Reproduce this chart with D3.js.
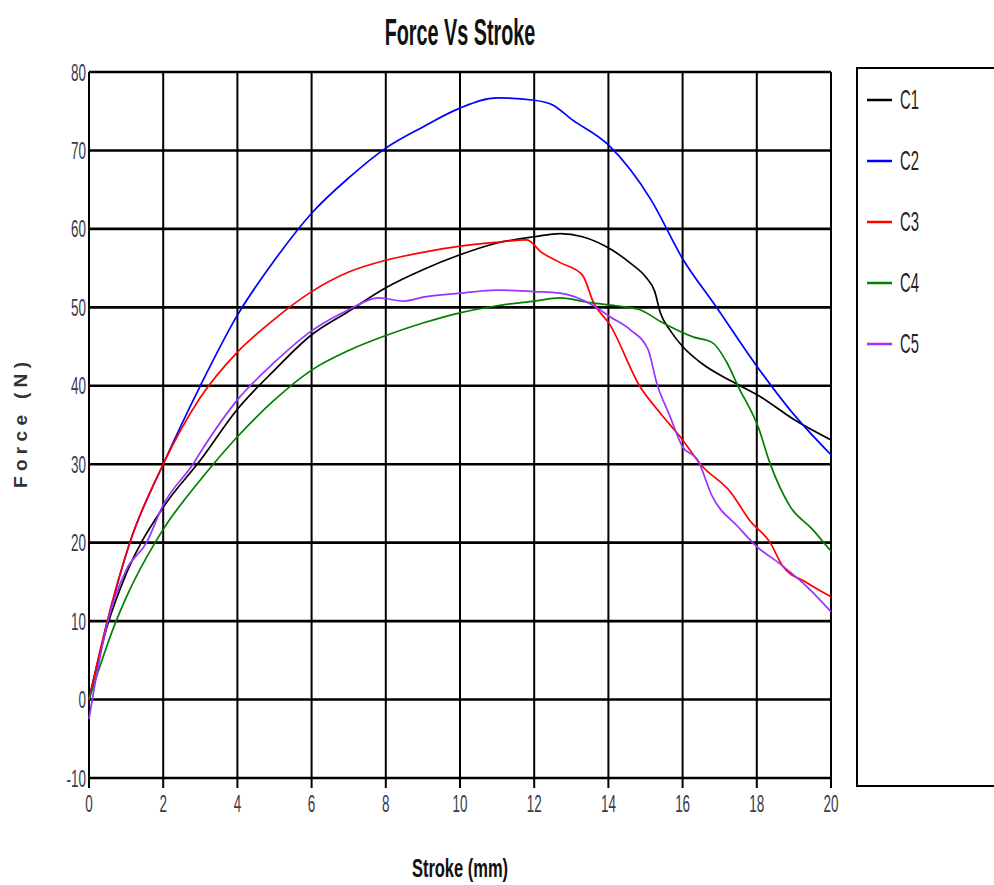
<!DOCTYPE html>
<html>
<head>
<meta charset="utf-8">
<script src="https://cdn.jsdelivr.net/npm/d3@7"></script>
<style>
  body { margin: 0; background: #fff; }
  text { font-family: "Liberation Sans", Arial, sans-serif; }
</style>
</head>
<body>
<script>
// series names and colours
const series_names = ["C1", "C2", "C3", "C4", "C5"];
const series_colors = ["#000000", "#0000ff", "#ff0000", "#008000", "#9933ff"];

// [stroke, force]
const c1_points = [[0,0],[0.5,9.5],[1,16],[2,24.5],[3,30.5],[4,37],[5,42],[6,46.5],[7,49.5],[8,52.5],[9,54.8],[10,56.7],[11,58.2],[12,59],[12.7,59.4],[13.3,59],[14.1,57.3],[14.6,55.6],[15,53.9],[15.25,52],[15.4,49.3],[15.66,47.1],[16,45],[16.5,42.9],[17.35,40.5],[18.1,38.6],[19,35.7],[20,33.1]];
const c2_points = [[0,0],[0.5,10],[1.1,20],[2,30],[3,40],[4,49],[5,56],[6,62],[7,66.5],[8,70.3],[9,73],[10,75.4],[11,76.7],[12,76.4],[12.5,75.8],[13,74],[14,70.7],[15.15,63.7],[16,56.2],[16.9,50.1],[18,42.5],[18.9,36.9],[20,31.2]];
const c3_points = [[0,0],[0.49,10],[1.1,20],[2,30],[3,38.5],[4,44.3],[5,48.5],[6,52],[7,54.5],[8,56],[9,57],[10,57.8],[11,58.3],[11.8,58.6],[12.2,57],[12.7,55.7],[13.3,54.1],[13.6,50.6],[14.04,47.8],[14.85,39.9],[15.4,36.5],[16,33.1],[16.5,29.9],[17.3,26.4],[17.8,22.9],[18.36,20],[18.7,17],[19.35,14.9],[20,13.1]];
const c4_points = [[0,0],[0.73,10],[1,13],[1.78,20],[2,21.7],[3,28],[3.35,30],[4,33.5],[5,38.2],[6,42],[7,44.5],[8,46.4],[9,48],[10,49.3],[11,50.2],[12,50.8],[12.7,51.2],[13.5,50.6],[14.2,50.2],[14.85,49.7],[15.4,48.2],[16.3,46.2],[16.8,45.5],[17.2,42.9],[17.5,39.9],[18.05,34.6],[18.35,30.2],[18.9,24.6],[19.5,21.7],[20,18.9]];
const c5_points = [[0,-2.5],[0.2,3],[0.51,10],[1,16.5],[1.55,20],[2,24.8],[2.8,30],[3,31.5],[4,38.2],[5,43],[6,47],[7,49.7],[7.8,51.2],[8.5,50.8],[9,51.3],[10,51.8],[11,52.2],[12,52],[12.7,51.8],[13.6,50.2],[14.04,48.8],[14.6,47.1],[15.07,44.6],[15.3,40.4],[15.66,36.1],[16,32.2],[16.4,30.6],[16.8,25.9],[17.5,22],[18,19.5],[18.6,17.4],[19.35,14.4],[20,11.2]];
const all_series = [c1_points, c2_points, c3_points, c4_points, c5_points];

const x_ticks = [0, 2, 4, 6, 8, 10, 12, 14, 16, 18, 20];
const y_ticks = [-10, 0, 10, 20, 30, 40, 50, 60, 70, 80];

const width = 994, height = 885;
const plot = { left: 89, right: 831, top: 72, bottom: 778 };
const squeeze = 0.56;	// the source picture has narrow, tall lettering

const svg = d3.select("body").append("svg")
    .attr("width", width)
    .attr("height", height);

const x = d3.scaleLinear().domain([0, 20]).range([plot.left, plot.right]);
const y = d3.scaleLinear().domain([-10, 80]).range([plot.bottom, plot.top]);

// narrow text helper: positions a group then squeezes it horizontally
const narrow_text = (parent, tx, ty, sx) => parent.append("g")
    .attr("transform", `translate(${tx},${ty}) scale(${sx},1)`)
    .append("text");

// vertical grid lines, ticks run a little below the frame
svg.append("g").selectAll("line")
    .data(x_ticks)
    .enter().append("line")
    .attr("x1", d => x(d)).attr("x2", d => x(d))
    .attr("y1", plot.top).attr("y2", plot.bottom + 10)
    .attr("stroke", "#000").attr("stroke-width", 2);

// horizontal grid lines
svg.append("g").selectAll("line")
    .data(y_ticks)
    .enter().append("line")
    .attr("x1", plot.left).attr("x2", plot.right)
    .attr("y1", d => y(d)).attr("y2", d => y(d))
    .attr("stroke", "#000").attr("stroke-width", 2.6);

// tick labels
const tick_style = t => t.style("font-size", "24px").style("fill", "#3a3a4a");

const y_label_g = svg.append("g");
y_ticks.forEach(v => {
    narrow_text(y_label_g, plot.left - 3, y(v) + 8.5, squeeze)
        .attr("text-anchor", "end")
        .call(tick_style)
        .text(v);
});

const x_label_g = svg.append("g");
x_ticks.forEach(v => {
    narrow_text(x_label_g, x(v), plot.bottom + 34, squeeze)
        .attr("text-anchor", "middle")
        .call(tick_style)
        .text(v);
});

// curves
const line = d3.line()
    .x(d => x(d[0]))
    .y(d => y(d[1]))
    .curve(d3.curveMonotoneX);

svg.append("g").selectAll("path")
    .data(all_series)
    .enter().append("path")
    .attr("d", line)
    .attr("fill", "none")
    .attr("stroke", (d, i) => series_colors[i])
    .attr("stroke-width", 1.7);

// titles
narrow_text(svg, 460, 45, 0.55)
    .attr("text-anchor", "middle")
    .style("font-size", "36px")
    .style("font-weight", "bold")
    .style("fill", "#111")
    .text("Force Vs Stroke");

narrow_text(svg, 460, 877, 0.66)
    .attr("text-anchor", "middle")
    .style("font-size", "25px")
    .style("font-weight", "bold")
    .style("fill", "#111")
    .text("Stroke (mm)");

svg.append("text")
    .attr("transform", "translate(27,425) rotate(-90)")
    .attr("text-anchor", "middle")
    .attr("textLength", 126)
    .attr("lengthAdjust", "spacing")
    .style("font-size", "19px")
    .style("font-weight", "bold")
    .style("fill", "#333")
    .text("Force (N)");

// legend box
svg.append("rect")
    .attr("x", 857).attr("y", 68)
    .attr("width", 160).attr("height", 718)
    .attr("fill", "none")
    .attr("stroke", "#000").attr("stroke-width", 2);

const legend = svg.append("g").selectAll("g")
    .data(series_names)
    .enter().append("g")
    .attr("transform", (d, i) => `translate(867,${100 + i * 61})`);

legend.append("line")
    .attr("x1", 0).attr("x2", 25)
    .attr("stroke", (d, i) => series_colors[i])
    .attr("stroke-width", 2.5);

legend.append("g")
    .attr("transform", "translate(33,9) scale(0.55,1)")
    .append("text")
    .style("font-size", "27px")
    .style("fill", "#222")
    .text(d => d);
</script>
</body>
</html>
